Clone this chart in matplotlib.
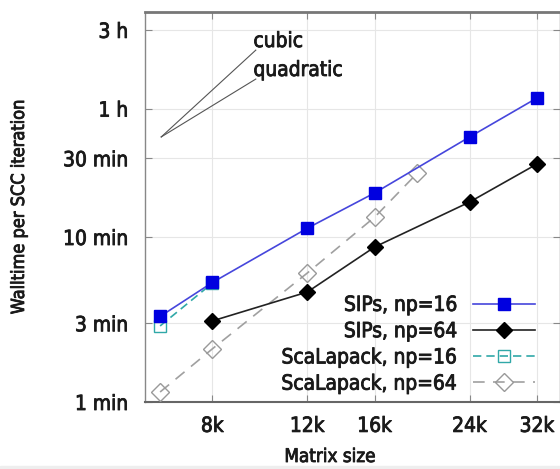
import matplotlib
matplotlib.use("Agg")
import matplotlib.pyplot as plt
from matplotlib import font_manager as fm
import matplotlib.patheffects as pe
import numpy as np

# ---- data (walltime in minutes) ----
sips16_x = [6400, 8000, 12000, 16000, 24000, 32000]
sips16_y = [3.3, 5.3, 11.3, 18.5, 40.4, 69.6]

sips64_x = [8000, 12000, 16000, 24000, 32000]
sips64_y = [3.1, 4.64, 8.7, 16.3, 27.7]

scal16_x = [6400, 8000]
scal16_y = [2.89, 5.25]

scal64_x = [6400, 8000, 12000, 16000, 19200]
scal64_y = [1.15, 2.1, 6.05, 13.2, 24.4]

guide_x = [6430, 9630]
guide_y0 = 40.4
guide_powers = {"cubic": 3, "quadratic": 2}

xticks = [8000, 12000, 16000, 24000, 32000]
xticklabels = ["8k", "12k", "16k", "24k", "32k"]
yticks = [1, 3, 10, 30, 60, 180]
yticklabels = ["1 min", "3 min", "10 min", "30 min", "1 h", "3 h"]

# ---- font ----
names = {f.name for f in fm.fontManager.ttflist}
fam = "Liberation Sans Narrow" if "Liberation Sans Narrow" in names else "DejaVu Sans"
plt.rcParams["font.family"] = [fam, "DejaVu Sans"]
if fam == "DejaVu Sans":
    plt.rcParams["font.stretch"] = "condensed"

heavy = [pe.withStroke(linewidth=0.6, foreground="#1a1a1a")]

fig = plt.figure(figsize=(5.6, 4.69), dpi=100)
ax = fig.add_axes([145 / 560, 1 - 402 / 469, 1 - 145 / 560, 390 / 469])
ax.set_xscale("log")
ax.set_yscale("log")
ax.set_xlim(6000, 35300)
ax.set_ylim(1, 231)

ax.plot(sips16_x, sips16_y, color="#4646dc", lw=1.2, marker="s", ms=8,
        mfc="#0000e0", mec="#0000e0", label="SIPs, np=16", zorder=4)
ax.plot(sips64_x, sips64_y, color="#222222", lw=1.2, marker="D", ms=8.5,
        mfc="black", mec="black", label="SIPs, np=64", zorder=4)
ax.plot(scal16_x, scal16_y, color="#30a8a8", lw=1.2, ls=(0, (5, 3)), marker="s",
        ms=8, mfc="none", mec="#30a8a8", mew=1.0, label="ScaLapack, np=16", zorder=3)
ax.plot(scal64_x, scal64_y, color="#a0a0a0", lw=1.2, ls=(0, (7, 5)), marker="D",
        ms=9, mfc="none", mec="#999999", mew=1.0, label="ScaLapack, np=64", zorder=3)

# scaling guides
for name, p in guide_powers.items():
    gx = np.array(guide_x, dtype=float)
    gy = guide_y0 * (gx / gx[0]) ** p
    ax.plot(gx, gy, color="#555555", lw=0.8, zorder=2)
    ax.text(gx[-1] * 0.99, gy[-1] * 1.135, name, fontsize=15, ha="left",
            va="center", color="#1a1a1a", path_effects=heavy)

ax.set_xticks(xticks)
ax.set_xticklabels(xticklabels)
ax.set_yticks(yticks)
ax.set_yticklabels(yticklabels)
ax.minorticks_off()
ax.tick_params(axis="both", which="major", direction="in", length=5, width=0.8,
               color="#888888", labelsize=15, top=True, right=True,
               labelcolor="#1a1a1a")
ax.tick_params(axis="x", pad=10)
ax.tick_params(axis="y", pad=12)
for t in ax.get_xticklabels() + ax.get_yticklabels():
    t.set_path_effects(heavy)
ax.grid(True, color="#e6e6e6", lw=0.8)
ax.set_axisbelow(True)
for s in ["left", "right"]:
    ax.spines[s].set_color("#888888")
    ax.spines[s].set_linewidth(1.0)
ax.spines["top"].set_color("#777777")
ax.spines["top"].set_linewidth(2.0)
ax.spines["bottom"].set_color("#666666")
ax.spines["bottom"].set_linewidth(1.5)

xl = ax.set_xlabel("Matrix size", fontsize=13.5, color="#1a1a1a")
xl.set_path_effects(heavy)
ax.xaxis.set_label_coords((330 - 145) / 415, -(447 - 402) / 390)
yl = ax.set_ylabel("Walltime per SCC iteration", fontsize=13, color="#1a1a1a")
yl.set_path_effects(heavy)
ax.yaxis.set_label_coords(-(145 - 28) / 415, 0.5)

leg = ax.legend(loc="lower right", markerfirst=False, frameon=False, fontsize=15,
                handlelength=3.0, handletextpad=0.7, labelspacing=0.3,
                borderaxespad=0.0, bbox_to_anchor=(0.96, 0.0))
for t in leg.get_texts():
    t.set_color("#1a1a1a")
    t.set_path_effects(heavy)

# light strip at the bottom of the image
fig.patches.append(plt.Rectangle((0, 0), 1, 3 / 469, transform=fig.transFigure,
                                 color="#eeeeee", zorder=0))

fig.savefig("out.png", dpi=100)
